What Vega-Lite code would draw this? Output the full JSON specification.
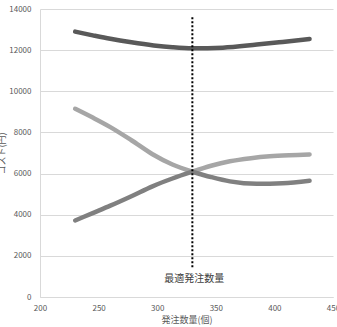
{
  "$schema": "https://vega.github.io/schema/vega-lite/v6.json",
  "width": 293,
  "height": 288,
  "autosize": {"type": "none"},
  "padding": {"left": 40, "top": 9, "right": 4, "bottom": 30},
  "config": {
    "view": {"stroke": null},
    "font": "Noto Sans CJK JP",
    "axis": {
      "labelFont": "Noto Sans CJK JP",
      "titleFont": "Noto Sans CJK JP",
      "labelFontSize": 8,
      "labelColor": "#595959",
      "titleFontSize": 9,
      "titleColor": "#595959",
      "titleFontWeight": "normal",
      "ticks": false,
      "domainColor": "#d9d9d9",
      "gridColor": "#d9d9d9"
    }
  },
  "datasets": {
    "curves": [
      {"series": "light", "part": "L", "q": 230, "cost": 9150},
      {"series": "light", "part": "L", "q": 245, "cost": 8720},
      {"series": "light", "part": "L", "q": 260, "cost": 8260},
      {"series": "light", "part": "L", "q": 278, "cost": 7620},
      {"series": "light", "part": "L", "q": 296, "cost": 6940},
      {"series": "light", "part": "L", "q": 313, "cost": 6440},
      {"series": "light", "part": "L", "q": 330, "cost": 6090},
      {"series": "light", "part": "R", "q": 330, "cost": 6090},
      {"series": "light", "part": "R", "q": 346, "cost": 6380},
      {"series": "light", "part": "R", "q": 362, "cost": 6600},
      {"series": "light", "part": "R", "q": 380, "cost": 6750},
      {"series": "light", "part": "R", "q": 396, "cost": 6840},
      {"series": "light", "part": "R", "q": 413, "cost": 6895},
      {"series": "light", "part": "R", "q": 430, "cost": 6930},
      {"series": "medium", "part": "L", "q": 230, "cost": 3720},
      {"series": "medium", "part": "L", "q": 245, "cost": 4080},
      {"series": "medium", "part": "L", "q": 260, "cost": 4440},
      {"series": "medium", "part": "L", "q": 278, "cost": 4900},
      {"series": "medium", "part": "L", "q": 296, "cost": 5380},
      {"series": "medium", "part": "L", "q": 313, "cost": 5760},
      {"series": "medium", "part": "L", "q": 330, "cost": 6090},
      {"series": "medium", "part": "R", "q": 330, "cost": 6090},
      {"series": "medium", "part": "R", "q": 346, "cost": 5830},
      {"series": "medium", "part": "R", "q": 362, "cost": 5620},
      {"series": "medium", "part": "R", "q": 385, "cost": 5500},
      {"series": "medium", "part": "R", "q": 407, "cost": 5530},
      {"series": "medium", "part": "R", "q": 430, "cost": 5650},
      {"series": "dark", "part": "L", "q": 230, "cost": 12900},
      {"series": "dark", "part": "L", "q": 245, "cost": 12720},
      {"series": "dark", "part": "L", "q": 260, "cost": 12550},
      {"series": "dark", "part": "L", "q": 278, "cost": 12380},
      {"series": "dark", "part": "L", "q": 297, "cost": 12230},
      {"series": "dark", "part": "L", "q": 313, "cost": 12140},
      {"series": "dark", "part": "L", "q": 330, "cost": 12090},
      {"series": "dark", "part": "L", "q": 356, "cost": 12120},
      {"series": "dark", "part": "L", "q": 385, "cost": 12270},
      {"series": "dark", "part": "L", "q": 407, "cost": 12400},
      {"series": "dark", "part": "L", "q": 430, "cost": 12540}
    ],
    "marker": [
      {"q": 330, "top": 13600, "bottom": 1400, "label": "最適発注数量", "ty": 880}
    ]
  },
  "layer": [
    {
      "data": {"name": "curves"},
      "mark": {"type": "line", "strokeWidth": 4.5, "strokeCap": "round", "strokeJoin": "round", "interpolate": "monotone"},
      "encoding": {
        "x": {
          "field": "q", "type": "quantitative",
          "scale": {"domain": [200, 450], "nice": false},
          "axis": {"values": [200, 250, 300, 350, 400, 450], "grid": false, "title": "発注数量(個)", "labelPadding": 7, "titlePadding": 3, "labelFlush": false}
        },
        "y": {
          "field": "cost", "type": "quantitative",
          "scale": {"domain": [0, 14000], "nice": false},
          "axis": {"values": [0, 2000, 4000, 6000, 8000, 10000, 12000, 14000], "format": "d", "grid": true, "title": "コスト(円)", "labelPadding": 9, "titlePadding": 2}
        },
        "color": {
          "field": "series", "type": "nominal",
          "scale": {"domain": ["dark", "light", "medium"], "range": ["#595959", "#a6a6a6", "#808080"]},
          "legend": null
        },
        "detail": {"field": "part", "type": "nominal"}
      }
    },
    {
      "data": {"name": "marker"},
      "mark": {"type": "rule", "color": "#000000", "strokeWidth": 2, "strokeDash": [2, 2]},
      "encoding": {
        "x": {"field": "q", "type": "quantitative"},
        "y": {"field": "top", "type": "quantitative"},
        "y2": {"field": "bottom"}
      }
    },
    {
      "data": {"name": "marker"},
      "mark": {"type": "text", "fontSize": 10, "color": "#404040", "align": "center", "baseline": "middle", "dx": 2, "font": "Noto Sans CJK JP"},
      "encoding": {
        "x": {"field": "q", "type": "quantitative"},
        "y": {"field": "ty", "type": "quantitative"},
        "text": {"field": "label"}
      }
    }
  ]
}
